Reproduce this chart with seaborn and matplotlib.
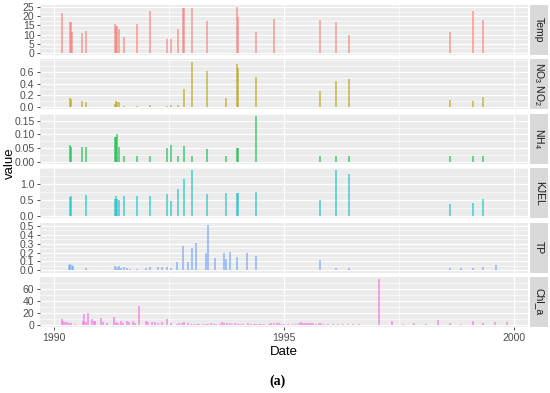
import seaborn as sns
import matplotlib.pyplot as plt
import pandas as pd
import numpy as np
from matplotlib.patches import Rectangle
from matplotlib.ticker import MultipleLocator, FixedLocator

nan = np.nan

# sampling dates (decimal years) shared by Temp / NO3NO2 / NH4 / KJEL
sample_year = [1990.18, 1990.35, 1990.38, 1990.39, 1990.62, 1990.70, 1991.32, 1991.35,
               1991.38, 1991.42, 1991.52, 1991.81, 1992.10, 1992.46, 1992.54, 1992.69,
               1992.80, 1992.82, 1993.01, 1993.32, 1993.75, 1993.98, 1994.01, 1994.39,
               1994.79, 1995.78, 1996.12, 1996.42, 1998.60, 1999.10, 1999.33]
temp = [21.9, 16.8, 16.8, 11.5, 10.8, 11.9, 15.7, 14.6,
        14.6, 13.0, 8.8, 15.7, 22.8, 7.8, 7.8, 13.0,
        24.6, 24.6, 24.6, 17.5, nan, 25.0, 19.7, 11.5,
        18.4, 17.9, 16.8, 10.0, 11.5, 22.8, 17.9]
no3no2 = [nan, 0.15, 0.14, nan, 0.11, 0.08, 0.05, 0.10,
          0.09, 0.08, 0.02, 0.02, 0.04, 0.02, 0.04, 0.03,
          nan, 0.30, 0.77, 0.62, 0.15, 0.73, 0.67, 0.51,
          nan, 0.28, 0.45, 0.48, 0.12, 0.11, 0.17]
nh4 = [nan, 0.060, 0.055, nan, 0.055, 0.053, 0.090, 0.090,
       0.100, 0.052, 0.020, 0.020, 0.020, 0.051, 0.062, 0.020,
       nan, 0.057, 0.020, 0.047, 0.020, 0.050, 0.050, 0.168,
       nan, 0.020, 0.020, 0.020, 0.020, 0.020, 0.020]
kjel = [nan, 0.60, 0.63, nan, nan, 0.66, 0.52, 0.64,
        0.54, 0.49, 0.64, 0.64, 0.64, 0.69, 0.48, 0.86,
        nan, 1.17, 1.43, 0.69, 0.71, 0.73, 0.73, 0.76,
        nan, 0.50, 1.43, 1.31, 0.36, 0.42, 0.53]

tp_year = [1990.33, 1990.36, 1990.39, 1990.42, 1990.71, 1991.32, 1991.37, 1991.41,
           1991.45, 1991.52, 1991.58, 1991.65, 1991.81, 1992.01, 1992.08, 1992.26,
           1992.36, 1992.46, 1992.55, 1992.68, 1992.81, 1992.91, 1993.01, 1993.08,
           1993.31, 1993.36, 1993.51, 1993.70, 1993.75, 1993.82, 1993.98, 1994.20,
           1994.39, 1995.78, 1996.12, 1996.42, 1998.60, 1998.84, 1999.10, 1999.33,
           1999.61]
tp = [0.06, 0.07, 0.06, 0.05, 0.03, 0.05, 0.04, 0.05,
      0.03, 0.04, 0.03, 0.02, 0.02, 0.03, 0.04, 0.04,
      0.04, 0.04, 0.03, 0.09, 0.27, 0.09, 0.25, 0.31,
      0.19, 0.51, 0.135, 0.19, 0.13, 0.21, 0.146, 0.19,
      0.16, 0.12, 0.03, 0.03, 0.03, 0.03, 0.03, 0.04,
      0.06]

chla_year = [1990.18, 1990.20, 1990.25, 1990.29, 1990.33, 1990.38, 1990.47, 1990.64, 1990.66, 1990.69,
             1990.74, 1990.84, 1990.87, 1990.90, 1991.02, 1991.07, 1991.16, 1991.31, 1991.34, 1991.39,
             1991.45, 1991.50, 1991.59, 1991.63, 1991.72, 1991.76, 1991.85, 1992.01, 1992.05, 1992.14,
             1992.19, 1992.26, 1992.36, 1992.45, 1992.54, 1992.67, 1992.73, 1992.79, 1992.82, 1992.91,
             1992.97, 1993.04, 1993.10, 1993.15, 1993.23, 1993.30, 1993.36, 1993.41, 1993.47, 1993.53,
             1993.60, 1993.66, 1993.70, 1993.76, 1993.82, 1993.88, 1993.93, 1993.99, 1994.05, 1994.11,
             1994.22, 1994.28, 1994.34, 1994.40, 1994.45, 1994.51, 1994.57, 1994.67, 1994.72, 1994.78,
             1994.84, 1994.90, 1994.94, 1995.01, 1995.08, 1995.19, 1995.26, 1995.32, 1995.36, 1995.41,
             1995.45, 1995.49, 1995.54, 1995.58, 1995.62, 1995.70, 1995.75, 1995.81, 1995.87, 1995.95,
             1996.06, 1996.17, 1996.28, 1996.38, 1996.49, 1996.62, 1997.07, 1997.35, 1997.59, 1997.83,
             1998.08, 1998.34, 1998.61, 1998.84, 1999.10, 1999.33, 1999.59, 1999.84]
chla = [10, 5.5, 4.5, 4.5, 3.5, 3, 2, 7, 18, 4.5,
        19, 9, 7, 6.5, 11, 4.5, 3.5, 13, 4.5, 3,
        5.5, 3.5, 5.5, 4.5, 5.5, 3.5, 32, 5.5, 4.5, 4.5,
        4.5, 3.5, 4.5, 10, 3, 2, 3, 3.5, 4.5, 3.5,
        2, 1.5, 1.5, 1.5, 1.5, 2, 2, 3, 2, 2,
        2, 4, 3.5, 3.5, 3, 2, 3, 2, 2, 1.5,
        3, 2, 1.5, 2, 1.5, 2, 2, 2, 3, 3,
        3.5, 3.5, 2, 1.5, 1.5, 2, 1.5, 3, 4, 3,
        3, 3.5, 3, 2.5, 3, 2, 3, 3, 2, 1.5,
        1.5, 2, 1.5, 1.5, 1.5, 1.5, 76, 5.5, 2, 2.5,
        2, 8, 3, 2, 7, 3, 4, 4]

variables = ['Temp', 'NO3NO2', 'NH4', 'KJEL', 'TP', 'Chl_a']
strip_labels = ['Temp', r'NO$_3$ NO$_2$', r'NH$_4$', 'KJEL', 'TP', 'Chl_a']
colors = ['#F8766D', '#B79F00', '#00BA38', '#00BFC4', '#619CFF', '#F564E3']
y_steps = [5, 0.2, 0.05, 0.5, 0.1, 20]
y_fmt = ['{:.0f}', '{:.1f}', '{:.2f}', '{:.1f}', '{:.1f}', '{:.0f}']

frames = []
for name, yr, vals in [('Temp', sample_year, temp), ('NO3NO2', sample_year, no3no2),
                       ('NH4', sample_year, nh4), ('KJEL', sample_year, kjel),
                       ('TP', tp_year, tp), ('Chl_a', chla_year, chla)]:
    frames.append(pd.DataFrame({'Date': yr, 'value': vals, 'variable': name}))
df = pd.concat(frames).dropna()

sns.set_theme(style='darkgrid', rc={'axes.facecolor': '#EBEBEB', 'grid.color': 'white',
                                    'grid.linewidth': 0.9})
plt.rcParams['font.family'] = ['Liberation Sans', 'DejaVu Sans']
plt.rcParams['mathtext.fontset'] = 'custom'
plt.rcParams['mathtext.rm'] = 'Liberation Sans'
plt.rcParams['mathtext.it'] = 'Liberation Sans'


def draw(data, color, **kw):
    plt.vlines(data['Date'], 0, data['value'], color=color, lw=1.3, alpha=0.6)


g = sns.FacetGrid(df, row='variable', hue='variable', row_order=variables,
                  hue_order=variables, palette=colors, sharey=False,
                  height=0.6, aspect=9, despine=False)
g.map_dataframe(draw)
fig = g.figure
fig.set_size_inches(5.5, 3.93)
fig.subplots_adjust(left=40 / 550, right=528 / 550, top=1 - 5 / 393,
                    bottom=1 - 327 / 393, hspace=0.088)

for i, ax in enumerate(g.axes.flat):
    ax.set_title('')
    ax.set_ylabel('')
    ax.set_xlabel('')
    vmax = df.loc[df['variable'] == variables[i], 'value'].max()
    ax.set_ylim(-0.05 * vmax, 1.05 * vmax)
    ax.set_xlim(1989.70, 2000.30)
    step = y_steps[i]
    ticks = np.arange(0, vmax + 1e-9, step)
    ax.yaxis.set_major_locator(FixedLocator(ticks))
    ax.set_yticklabels([y_fmt[i].format(t) for t in ticks])
    ax.yaxis.set_minor_locator(MultipleLocator(step / 2))
    ax.xaxis.set_major_locator(FixedLocator([1990, 1995, 2000]))
    ax.xaxis.set_minor_locator(FixedLocator([1992.5, 1997.5]))
    ax.grid(which='major', color='white', lw=0.9)
    ax.grid(which='minor', color='white', lw=0.45)
    ax.tick_params(axis='y', which='major', length=2.5, width=0.6, color='#333333',
                   labelsize=7.5, labelcolor='#4D4D4D', pad=1.5, left=True)
    ax.tick_params(which='minor', length=0)
    if i == len(variables) - 1:
        ax.tick_params(axis='x', which='major', length=2.5, width=0.6, color='#333333',
                       labelsize=7.5, labelcolor='#4D4D4D', pad=1.5, bottom=True)
        ax.set_xticklabels(['1990', '1995', '2000'])
    else:
        ax.tick_params(axis='x', which='major', length=0, labelbottom=False)
    for s in ax.spines.values():
        s.set_visible(False)
    ax.add_patch(Rectangle((1.004, 0), 0.038, 1, transform=ax.transAxes, clip_on=False,
                           facecolor='#D9D9D9', edgecolor='none'))
    ax.text(1.023, 0.5, strip_labels[i], transform=ax.transAxes, rotation=-90,
            ha='center', va='center', fontsize=7.5, color='#1A1A1A')

fig.text(10 / 550, 1 - 163 / 393, 'value', rotation=90, ha='center', va='center',
         fontsize=9.5, color='black')
fig.text(284 / 550, 1 - 352 / 393, 'Date', ha='center', va='center',
         fontsize=9.5, color='black')
fig.text(277 / 550, 1 - 381 / 393, '(a)', ha='center', va='center', fontsize=10,
         fontweight='bold', family=['Liberation Serif', 'DejaVu Serif'], color='black')

fig.savefig('out.png', dpi=100)
